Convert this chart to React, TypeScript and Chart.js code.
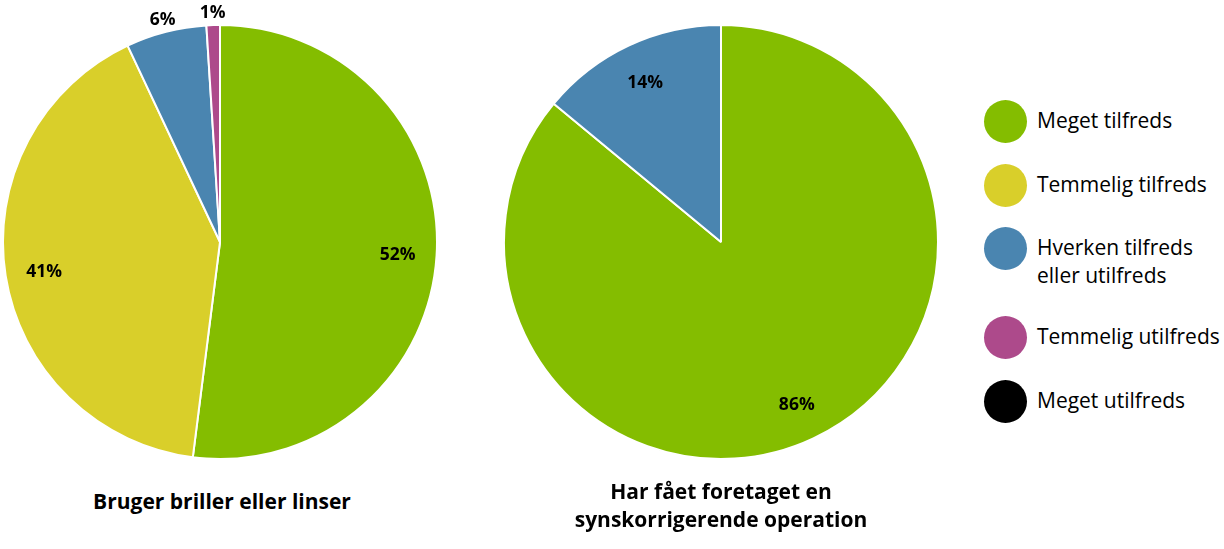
import React, { useEffect, useRef } from "react";
import { Chart, registerables } from "chart.js";

Chart.register(...registerables);

const categories = [
  "Meget tilfreds",
  "Temmelig tilfreds",
  "Hverken tilfreds eller utilfreds",
  "Temmelig utilfreds",
  "Meget utilfreds",
];
const legendLines = [
  ["Meget tilfreds"],
  ["Temmelig tilfreds"],
  ["Hverken tilfreds", "eller utilfreds"],
  ["Temmelig utilfreds"],
  ["Meget utilfreds"],
];
const colors = ["#84bd00", "#d9cf2a", "#4a85b0", "#ad4a8b", "#000000"];
const brillerValues = [52, 41, 6, 1, 0];
const operationValues = [86, 0, 14, 0, 0];
const brillerTitle = ["Bruger briller eller linser"];
const operationTitle = ["Har fået foretaget en", "synskorrigerende operation"];

const FONT = "'Open Sans', 'Noto Sans', sans-serif";

const pctLabels = {
  id: "pctLabels",
  afterDatasetsDraw(chart: any) {
    const ctx = chart.ctx;
    const meta = chart.getDatasetMeta(0);
    const data = chart.data.datasets[0].data as number[];
    ctx.save();
    ctx.font = `bold 17.5px ${FONT}`;
    ctx.fillStyle = "#000";
    ctx.textAlign = "center";
    ctx.textBaseline = "middle";
    meta.data.forEach((arc: any, i: number) => {
      const v = data[i];
      if (!v) return;
      const p = arc.getProps(["x", "y", "startAngle", "endAngle", "outerRadius"], true);
      const mid = (p.startAngle + p.endAngle) / 2;
      const r = v < 10 ? p.outerRadius + 14 : p.outerRadius * 0.82;
      ctx.fillText(v + "%", p.x + Math.cos(mid) * r, p.y + Math.sin(mid) * r + 2);
    });
    ctx.restore();
  },
};

function PieChart({ values, left }: { values: number[]; left: number }) {
  const ref = useRef<HTMLCanvasElement>(null);
  useEffect(() => {
    if (!ref.current) return;
    const chart = new Chart(ref.current, {
      type: "pie",
      data: {
        labels: categories,
        datasets: [
          {
            data: values,
            backgroundColor: colors,
            borderColor: "#ffffff",
            borderWidth: 2,
          },
        ],
      },
      options: {
        animation: false,
        responsive: false,
        radius: 217,
        layout: { padding: 0 },
        plugins: { legend: { display: false }, tooltip: { enabled: false } },
      } as any,
      plugins: [pctLabels],
    });
    return () => chart.destroy();
  }, []);
  return (
    <canvas
      ref={ref}
      width={440}
      height={484}
      style={{ position: "absolute", left, top: 0, width: 440, height: 484 }}
    />
  );
}

function Title({ lines, cx, top }: { lines: string[]; cx: number; top: number }) {
  return (
    <div
      style={{
        position: "absolute",
        left: cx - 200,
        width: 400,
        top,
        textAlign: "center",
        fontFamily: FONT,
        fontWeight: "bold",
        fontSize: 21,
        lineHeight: "28px",
        color: "#000",
      }}
    >
      {lines.map((l, i) => (
        <div key={i}>{l}</div>
      ))}
    </div>
  );
}

const legendCenters = [121, 185, 248, 337, 401];

export default function App() {
  return (
    <div
      style={{
        position: "fixed",
        left: 0,
        top: 0,
        width: 1224,
        height: 549,
        background: "#fff",
        overflow: "hidden",
      }}
    >
      <PieChart values={brillerValues} left={0} />
      <PieChart values={operationValues} left={501} />
      <Title lines={brillerTitle} cx={222} top={487} />
      <Title lines={operationTitle} cx={721} top={477} />
      {categories.map((c, i) => (
        <div key={c}>
          <div
            style={{
              position: "absolute",
              left: 984,
              top: legendCenters[i] - 21.5,
              width: 43,
              height: 43,
              borderRadius: "50%",
              background: colors[i],
            }}
          />
          <div
            style={{
              position: "absolute",
              left: 1037,
              top: legendCenters[i] - 15,
              fontFamily: FONT,
              fontSize: 21,
              lineHeight: "28px",
              color: "#000",
              whiteSpace: "nowrap",
            }}
          >
            {legendLines[i].map((l, j) => (
              <div key={j}>{l}</div>
            ))}
          </div>
        </div>
      ))}
    </div>
  );
}
